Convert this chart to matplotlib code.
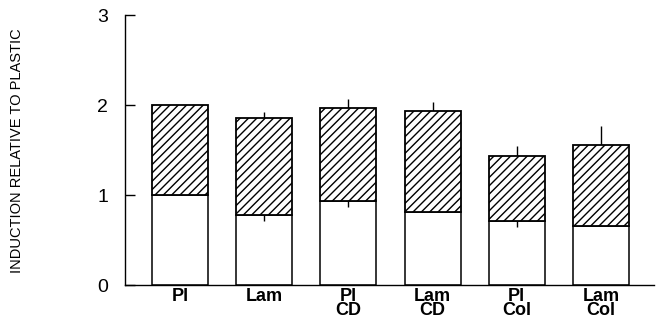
#!/usr/bin/env python3

"""
Stacked induction bars relative to plastic
"""

import matplotlib
matplotlib.use("Agg")
import matplotlib.pyplot as plt

# =======================
# Data
# =======================
categories = ["Pl", "Lam", "Pl\nCD", "Lam\nCD", "Pl\nCol", "Lam\nCol"]
lower_vals = [1.00, 0.78, 0.93, 0.81, 0.71, 0.66]
total_vals = [2.00, 1.86, 1.97, 1.93, 1.43, 1.56]
lower_err = [0.00, 0.07, 0.06, 0.00, 0.07, 0.00]
upper_err = [0.00, 0.06, 0.10, 0.10, 0.12, 0.21]
y_ticks = [0, 1, 2, 3]
y_label = "INDUCTION RELATIVE TO PLASTIC"

# =======================
# Plot
# =======================
plt.rcParams["font.family"] = ["Liberation Sans", "DejaVu Sans"]
plt.rcParams["hatch.linewidth"] = 1.0

fig = plt.figure(figsize=(6.58, 3.22), dpi=100)
ax = fig.add_axes([125 / 658, 37 / 322, 529 / 658, 270 / 322])

x = list(range(len(categories)))
upper_vals = [t - b for t, b in zip(total_vals, lower_vals)]

ax.bar(x, lower_vals, width=0.665, color="white", edgecolor="black",
       linewidth=1.1, zorder=2)
ax.bar(x, upper_vals, bottom=lower_vals, width=0.665, color="white",
       edgecolor="black", hatch="////", linewidth=1.3, zorder=2)

# error bars: up on the total, down on the lower part
ax.errorbar(x, total_vals, yerr=[[0] * len(x), upper_err], fmt="none",
            ecolor="black", elinewidth=1.0, capsize=0, zorder=1)
ax.errorbar(x, lower_vals, yerr=[lower_err, [0] * len(x)], fmt="none",
            ecolor="black", elinewidth=1.0, capsize=0, zorder=3)

ax.set_xlim(-0.653, 5.63)
ax.set_ylim(0, 3)
ax.set_yticks(y_ticks)
ax.set_yticklabels([str(v) for v in y_ticks], fontsize=14)
ax.tick_params(axis="y", direction="in", length=7, width=1.0, pad=12)
ax.set_xticks(x)
ax.set_xticklabels(categories, fontsize=13, fontweight="bold",
                   linespacing=0.8)
ax.tick_params(axis="x", length=0, pad=2)

for side in ["top", "right"]:
    ax.spines[side].set_visible(False)
ax.spines["left"].set_linewidth(1.0)
ax.spines["bottom"].set_linewidth(1.0)

fig.text(17 / 658, 1 - 151 / 322, y_label, rotation=90, ha="center",
         va="center", fontsize=10.5)

fig.savefig("out.png", dpi=100)
plt.close(fig)
